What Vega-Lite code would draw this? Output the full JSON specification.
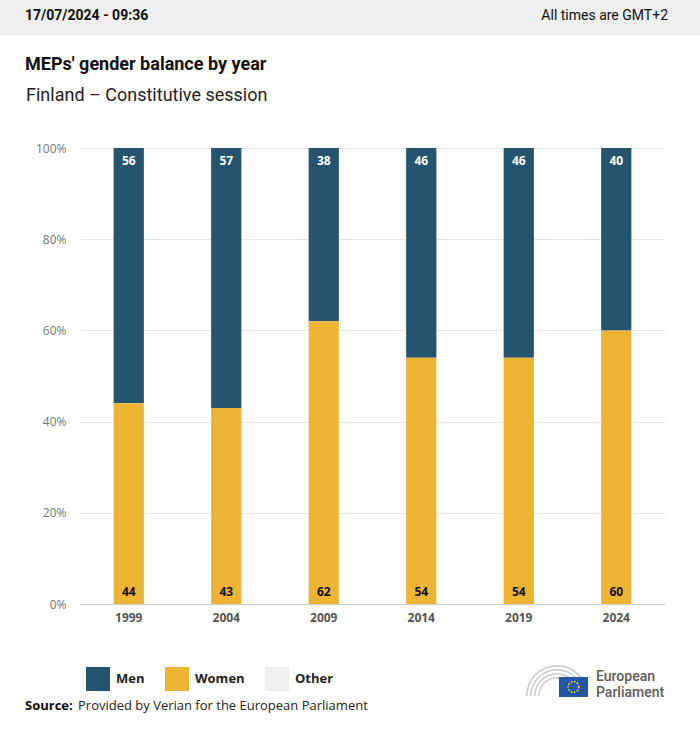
{
  "$schema": "https://vega.github.io/schema/vega-lite/v6.json",
  "width": 585,
  "height": 456,
  "autosize": {"type": "none"},
  "padding": {"left": 80, "top": 148, "right": 35, "bottom": 127},
  "background": "white",
  "config": {"view": {"stroke": null}},
  "data": {
    "values": [
      {"year": "1999", "gender": "Men", "value": 56},
      {"year": "1999", "gender": "Women", "value": 44},
      {"year": "2004", "gender": "Men", "value": 57},
      {"year": "2004", "gender": "Women", "value": 43},
      {"year": "2009", "gender": "Men", "value": 38},
      {"year": "2009", "gender": "Women", "value": 62},
      {"year": "2014", "gender": "Men", "value": 46},
      {"year": "2014", "gender": "Women", "value": 54},
      {"year": "2019", "gender": "Men", "value": 46},
      {"year": "2019", "gender": "Women", "value": 54},
      {"year": "2024", "gender": "Men", "value": 40},
      {"year": "2024", "gender": "Women", "value": 60}
    ]
  },
  "layer": [
    {
      "data": {"values": [{}]},
      "mark": {"type": "rect", "color": "#eeefee"},
      "encoding": {
        "x": {"value": -80}, "x2": {"value": 620},
        "y": {"value": -148}, "y2": {"value": -113}
      }
    },
    {
      "data": {"values": [{"t": "17/07/2024 - 09:36"}]},
      "mark": {"type": "text", "align": "left", "baseline": "middle", "font": "Roboto", "fontSize": 14, "fontWeight": "bold", "color": "#111111"},
      "encoding": {"x": {"value": -55}, "y": {"value": -132}, "text": {"field": "t"}}
    },
    {
      "data": {"values": [{"t": "All times are GMT+2"}]},
      "mark": {"type": "text", "align": "right", "baseline": "middle", "font": "Roboto", "fontSize": 14, "color": "#111111"},
      "encoding": {"x": {"value": 588}, "y": {"value": -132}, "text": {"field": "t"}}
    },
    {
      "data": {"values": [{"t": "MEPs' gender balance by year"}]},
      "mark": {"type": "text", "align": "left", "baseline": "middle", "font": "Roboto", "fontSize": 18, "fontWeight": "bold", "color": "#111111"},
      "encoding": {"x": {"value": -55}, "y": {"value": -83}, "text": {"field": "t"}}
    },
    {
      "data": {"values": [{"t": "Finland – Constitutive session"}]},
      "mark": {"type": "text", "align": "left", "baseline": "middle", "font": "Roboto", "fontSize": 18, "color": "#222222"},
      "encoding": {"x": {"value": -54}, "y": {"value": -52}, "text": {"field": "t"}}
    },
    {
      "mark": {"type": "bar"},
      "encoding": {
        "x": {
          "field": "year", "type": "nominal",
          "scale": {"paddingInner": 0.69, "paddingOuter": 0.345},
          "axis": {"title": null, "labelAngle": 0, "labelFont": "Open Sans", "labelFontWeight": "bold", "labelFontSize": 12, "labelColor": "#555555", "ticks": false, "domainColor": "#cccccc", "labelPadding": 8}
        },
        "y": {
          "field": "value", "type": "quantitative", "stack": "zero",
          "scale": {"domain": [0, 100], "nice": false},
          "axis": {"title": null, "values": [0, 20, 40, 60, 80, 100], "labelExpr": "datum.value + '%'", "ticks": false, "domain": false, "gridColor": "#e6e6e6", "labelColor": "#777777", "labelFont": "Open Sans", "labelFontSize": 12, "labelPadding": 14}
        },
        "color": {
          "field": "gender", "type": "nominal",
          "scale": {"domain": ["Men", "Women", "Other"], "range": ["#25546f", "#edb433", "#eeeff1"]},
          "legend": {"orient": "none", "legendX": 6, "legendY": 519, "direction": "horizontal", "title": null, "symbolType": "square", "symbolSize": 576, "symbolStrokeWidth": 0, "symbolOpacity": 1, "labelFont": "Open Sans", "labelFontSize": 13, "labelFontWeight": "bold", "labelColor": "#222222", "labelOffset": 6, "columnPadding": 20}
        },
        "order": {"field": "gender", "sort": "descending"}
      }
    },
    {
      "transform": [{"filter": "datum.gender == 'Men'"}],
      "mark": {"type": "text", "baseline": "middle", "dy": 13, "font": "Open Sans", "fontSize": 12, "fontWeight": "bold", "color": "white"},
      "encoding": {
        "x": {"field": "year", "type": "nominal"},
        "y": {"datum": 100},
        "text": {"field": "value"}
      }
    },
    {
      "transform": [{"filter": "datum.gender == 'Women'"}],
      "mark": {"type": "text", "baseline": "middle", "dy": -12, "font": "Open Sans", "fontSize": 12, "fontWeight": "bold", "color": "#111111"},
      "encoding": {
        "x": {"field": "year", "type": "nominal"},
        "y": {"datum": 0},
        "text": {"field": "value"}
      }
    },
    {
      "data": {"values": [{"t": "Source:"}]},
      "mark": {"type": "text", "align": "left", "baseline": "middle", "font": "Open Sans", "fontSize": 13, "fontWeight": "bold", "color": "#111111"},
      "encoding": {"x": {"value": -55}, "y": {"value": 558}, "text": {"field": "t"}}
    },
    {
      "data": {"values": [{"t": "Provided by Verian for the European Parliament"}]},
      "mark": {"type": "text", "align": "left", "baseline": "middle", "font": "Open Sans", "fontSize": 13, "color": "#222222"},
      "encoding": {"x": {"value": -2}, "y": {"value": 558}, "text": {"field": "t"}}
    },
    {
      "data": {"values": [{}]},
      "mark": {"type": "arc", "theta": -1.5708, "theta2": 1.5708, "radius": 31, "radius2": 29.5, "color": "#c9c9c9"},
      "encoding": {"x": {"value": 477}, "y": {"value": 548}}
    },
    {
      "data": {"values": [{}]},
      "mark": {"type": "arc", "theta": -1.5708, "theta2": 1.5708, "radius": 27, "radius2": 25.5, "color": "#c9c9c9"},
      "encoding": {"x": {"value": 477}, "y": {"value": 548}}
    },
    {
      "data": {"values": [{}]},
      "mark": {"type": "arc", "theta": -1.5708, "theta2": 1.5708, "radius": 23, "radius2": 21.5, "color": "#c9c9c9"},
      "encoding": {"x": {"value": 477}, "y": {"value": 548}}
    },
    {
      "data": {"values": [{}]},
      "mark": {"type": "arc", "theta": -1.5708, "theta2": 1.5708, "radius": 19, "radius2": 17.5, "color": "#c9c9c9"},
      "encoding": {"x": {"value": 477}, "y": {"value": 548}}
    },
    {
      "data": {"values": [{}]},
      "mark": {"type": "rect", "color": "#2456a6"},
      "encoding": {"x": {"value": 479}, "x2": {"value": 508}, "y": {"value": 529}, "y2": {"value": 549}}
    },
    {
      "data": {"values": [{}]},
      "mark": {"type": "point", "shape": "circle", "filled": false, "size": 113, "stroke": "#f3d21b", "strokeWidth": 1.8, "strokeDash": [1.5, 1.6], "opacity": 1},
      "encoding": {"x": {"value": 493.5}, "y": {"value": 539}}
    },
    {
      "data": {"values": [{"t": "European"}]},
      "mark": {"type": "text", "align": "left", "baseline": "middle", "font": "Roboto", "fontSize": 14, "fontWeight": 500, "color": "#5a5a5a"},
      "encoding": {"x": {"value": 516}, "y": {"value": 529}, "text": {"field": "t"}}
    },
    {
      "data": {"values": [{"t": "Parliament"}]},
      "mark": {"type": "text", "align": "left", "baseline": "middle", "font": "Roboto", "fontSize": 14, "fontWeight": 500, "color": "#5a5a5a"},
      "encoding": {"x": {"value": 516}, "y": {"value": 545}, "text": {"field": "t"}}
    }
  ]
}
